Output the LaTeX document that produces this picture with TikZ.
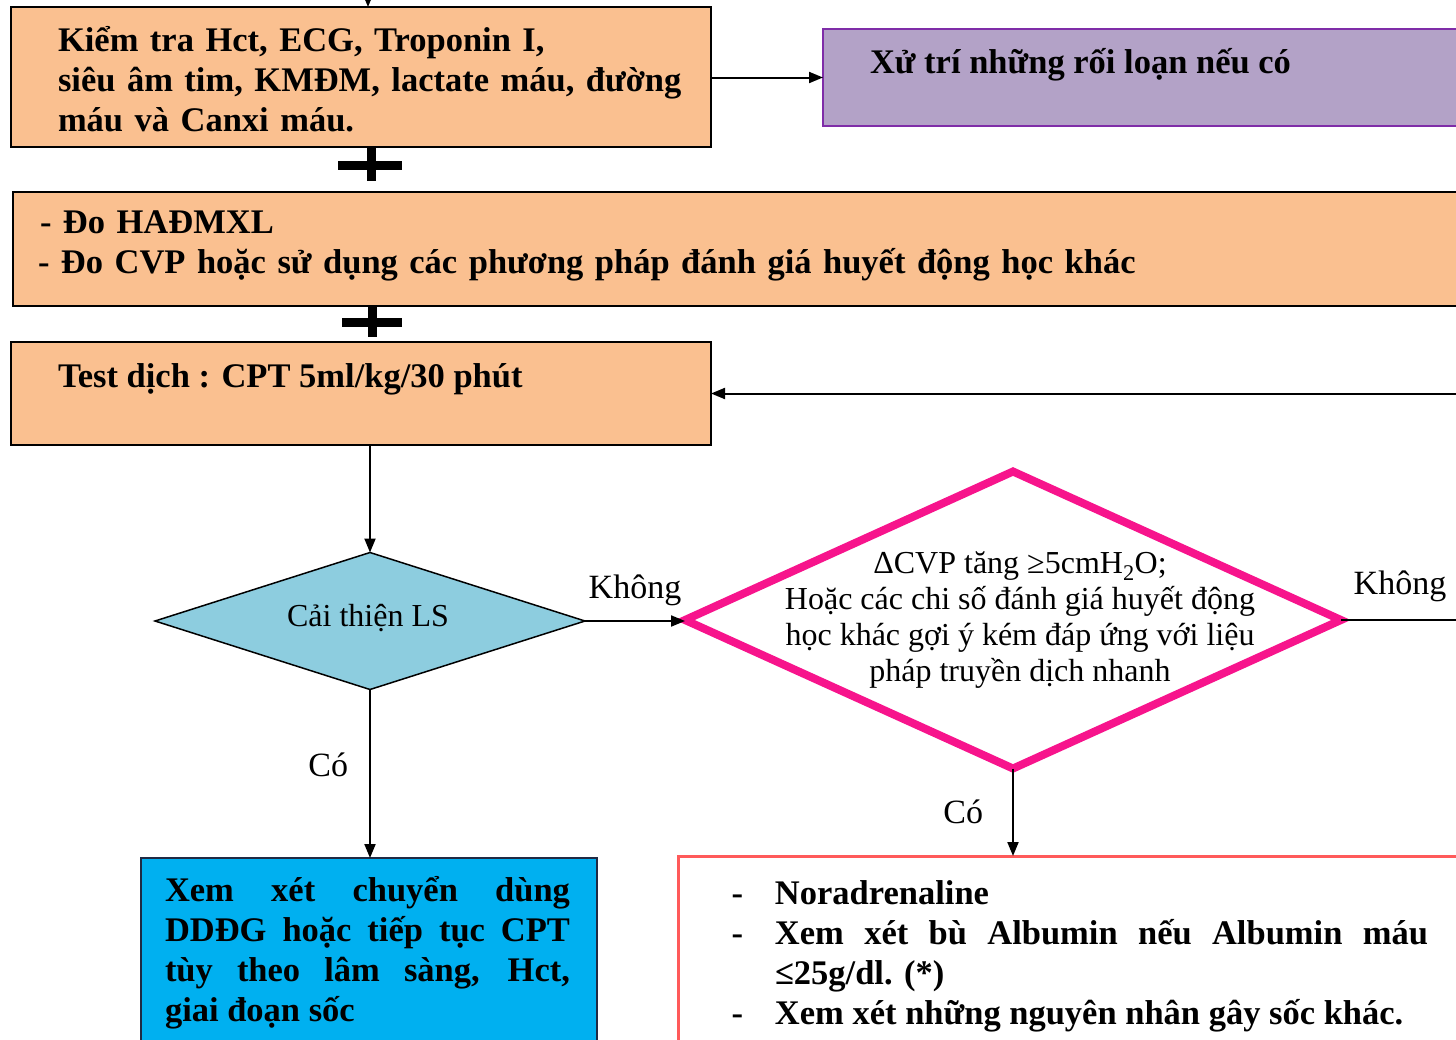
\documentclass[tikz,border=0pt]{standalone}
\usepackage{fontspec}
\setmainfont{Liberation Serif}
\usetikzlibrary{shapes.geometric,arrows.meta,calc}

\definecolor{peach}{HTML}{FAC090}
\definecolor{lilac}{HTML}{B3A2C7}
\definecolor{lilacedge}{HTML}{7F2DA8}
\definecolor{skyfill}{HTML}{00B0F0}
\definecolor{skyedge}{HTML}{1F2A44}
\definecolor{tealfill}{HTML}{8DCDDF}
\definecolor{hotpink}{HTML}{F7148C}
\definecolor{coral}{HTML}{FF5A5A}

\begin{document}
\begin{tikzpicture}[x=1pt,y=-1pt,
  every node/.style={inner sep=0pt, outer sep=0pt},
  peachbox/.style={draw=black, line width=2.5pt, fill=peach},
  lilacbox/.style={draw=lilacedge, line width=2.5pt, fill=lilac},
  skybox/.style={draw=skyedge, line width=2pt, fill=skyfill},
  coralbox/.style={draw=coral, line width=3pt, fill=white},
  bigbold/.style={font=\bfseries\fontsize{34.5}{40}\selectfont},
  plain/.style={font=\fontsize{32}{36}\selectfont},
  lbl/.style={font=\fontsize{34}{38}\selectfont},
  link/.style={draw=black, line width=2pt, -{Triangle[length=14pt,width=11pt]}},
  crossbar/.style={draw=black, line width=9pt}
]
\useasboundingbox (0,0) rectangle (1456,1039);
\clip (0,0) rectangle (1456,1039);

% ---------- boxes ----------
\node[peachbox, minimum width=700, minimum height=140] (tests) at (361,77) {};
\node[lilacbox, minimum width=680, minimum height=97] (treat) at (1163,77.5) {};
\node[peachbox, minimum width=1500, minimum height=114] (monitor) at (763,249) {};
\node[peachbox, minimum width=700, minimum height=103] (fluid) at (361,393.5) {};

\node[diamond, draw=black, line width=1.5pt, fill=tealfill,
      minimum width=430, minimum height=137] (improve) at (370,621) {};
\node[diamond, draw=hotpink, line width=8pt, fill=white, line join=miter,
      minimum width=656, minimum height=297] (cvp) at (1013,620) {};

\node[skybox, minimum width=456, minimum height=220] (switch) at (369,968) {};
\node[coralbox, minimum width=800, minimum height=220] (nora) at (1078,966) {};

% ---------- texts ----------
\node[bigbold, anchor=base west, text width=660, align=left] (teststxt) at (58,51)
  {Kiểm tra Hct, ECG, Troponin I,\\
   siêu âm tim, KMĐM, lactate máu, đường\\
   máu và Canxi máu.};
\node[bigbold, anchor=base west] (treattxt) at (870,73) {Xử trí những rối loạn nếu có};
\node[bigbold, anchor=base west, text width=1200, align=left] (monitortxt) at (38,233)
  {\hspace*{2pt}- Đo HAĐMXL\\
   - Đo CVP hoặc sử dụng các phương pháp đánh giá huyết động học khác};
\node[bigbold, anchor=base west] (fluidtxt) at (58,387) {Test dịch : CPT 5ml/kg/30 phút};

\node[plain] (improvetxt) at (368,618) {Cải thiện LS};
\node[plain, align=center] (cvptxt) at (1020,620.5)
  {ΔCVP tăng ≥5cmH\textsubscript{2}O;\\
   Hoặc các chi số đánh giá huyết động\\
   học khác gợi ý kém đáp ứng với liệu\\
   pháp truyền dịch nhanh};

\node[bigbold, anchor=base west, text width=405, align=justify] (switchtxt) at (165,901)
  {\hyphenpenalty=10000\exhyphenpenalty=10000
   Xem xét chuyển dùng\linebreak
   DDĐG hoặc tiếp tục CPT\linebreak
   tùy theo lâm sàng, Hct,\linebreak
   giai đoạn sốc};

\node[bigbold, anchor=base west, text width=653, align=justify] (noratxt) at (775,904)
  {\hyphenpenalty=10000\exhyphenpenalty=10000\parindent=0pt
   \noindent\llap{-\hspace{32pt}}Noradrenaline\par
   \noindent\llap{-\hspace{32pt}}Xem xét bù Albumin nếu Albumin máu\linebreak
   ≤25g/dl. (*)\par
   \noindent\llap{-\hspace{32pt}}Xem xét những nguyên nhân gây sốc khác.};

% ---------- connectors ----------
\coordinate (entry) at (368,-30);
\coordinate (loopturn) at (1520,620);

\draw[link] (entry) -- (entry |- tests.north);
\draw[link] (tests.east |- treat.west) -- (treat.west);
\draw[link] (fluid.south -| improve.north) -- (improve.north);
\draw[link] (improve.east) -- (improve.east -| cvp.west)
  node[lbl, midway, above=15pt] (no1) {Không};
\draw[link] (improve.south) -- (switch.north -| improve.south)
  node[lbl, pos=0.45, left=22pt] (yes1) {Có};
\draw[link] (cvp.south) -- (nora.north -| cvp.south)
  node[lbl, pos=0.5, left=30pt] (yes2) {Có};
\draw[link] (cvp.east) -- (loopturn) |- (fluid.east);
\node[lbl, anchor=south] (no2) at (1400,602) {Không};

% ---------- joining crosses ----------
\draw[crossbar] (338,165) -- (402,165);
\draw[crossbar] (371,148) -- (371,181);
\draw[crossbar] (342,322) -- (402,322);
\draw[crossbar] (372,307) -- (372,337);
\end{tikzpicture}
\end{document}
